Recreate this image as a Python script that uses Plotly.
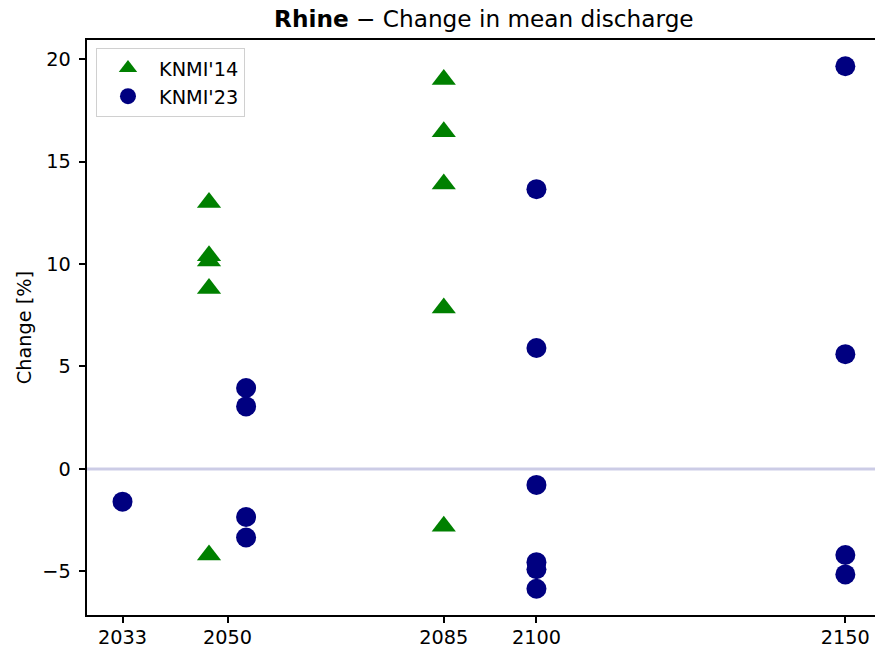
import plotly.graph_objects as go

# KNMI'14 scenarios
knmi14_x = [2047, 2047, 2047, 2047, 2047, 2085, 2085, 2085, 2085, 2085]
knmi14_y = [13.0, 10.4, 10.15, 8.8, -4.2, 19.0, 16.45, 13.9, 7.85, -2.8]

# KNMI'23 scenarios
knmi23_x = [2033, 2053, 2053, 2053, 2053, 2100, 2100, 2100, 2100, 2100, 2100, 2150, 2150, 2150, 2150]
knmi23_y = [-1.6, 3.95, 3.05, -2.35, -3.35, 13.65, 5.9, -0.78, -4.55, -4.9, -5.85, 19.65, 5.6, -4.2, -5.15]

x_ticks = [2033, 2050, 2085, 2100, 2150]
y_ticks = [-5, 0, 5, 10, 15, 20]

FONT = "DejaVu Sans"
FS = 19.3

fig = go.Figure()
fig.add_trace(go.Scatter(
    x=knmi14_x, y=knmi14_y, mode="markers", name="KNMI'14", legendgroup="a",
    marker=dict(symbol="triangle-up", size=21, color="#008000", line=dict(width=0)),
))
fig.add_trace(go.Scatter(
    x=knmi23_x, y=knmi23_y, mode="markers", name="KNMI'23", legendgroup="b",
    marker=dict(symbol="circle", size=20, color="#000080", line=dict(width=0)),
))

fig.add_shape(type="line", xref="paper", yref="y", x0=0, x1=1, y0=0, y1=0,
              line=dict(color="rgba(0,0,128,0.2)", width=3), layer="below")

fig.update_layout(
    width=875, height=648,
    margin=dict(l=87, r=0, t=40, b=33, autoexpand=False),
    paper_bgcolor="white", plot_bgcolor="white",
    font=dict(family=FONT, size=FS, color="black"),
    title=dict(text="<b>Rhine</b> − Change in mean discharge", x=0.553, xanchor="center",
               y=1 - 19 / 648, yanchor="middle", font=dict(size=23.2, family=FONT)),
    showlegend=True,
    legend=dict(x=0.0114, y=0.986, xanchor="left", yanchor="top",
                bgcolor="rgba(255,255,255,0.8)", bordercolor="#d0d0d0", borderwidth=1,
                font=dict(size=FS, family=FONT), traceorder="grouped", tracegroupgap=0,
                itemsizing="trace", itemwidth=52),
    xaxis=dict(range=[2027.25, 2154.8], tickvals=x_ticks, ticktext=[str(v) for v in x_ticks],
               showgrid=False, zeroline=False, showline=True, linecolor="black", linewidth=1.5,
               mirror=True, ticks="outside", ticklen=6.7, tickwidth=1.5, tickcolor="black",
               ticklabelstandoff=-3, automargin=False),
    yaxis=dict(range=[-7.13, 20.93], tickvals=y_ticks,
               showgrid=False, zeroline=False, showline=True, linecolor="black", linewidth=1.5,
               mirror=False, ticks="outside", ticklen=6.7, tickwidth=1.5, tickcolor="black",
               ticklabelstandoff=4, automargin=False,
               title=dict(text="Change [%]", standoff=5, font=dict(size=FS, family=FONT))),
)

fig.write_html("out.html", config={"displayModeBar": False},
               post_script="document.body.style.margin='0';")
